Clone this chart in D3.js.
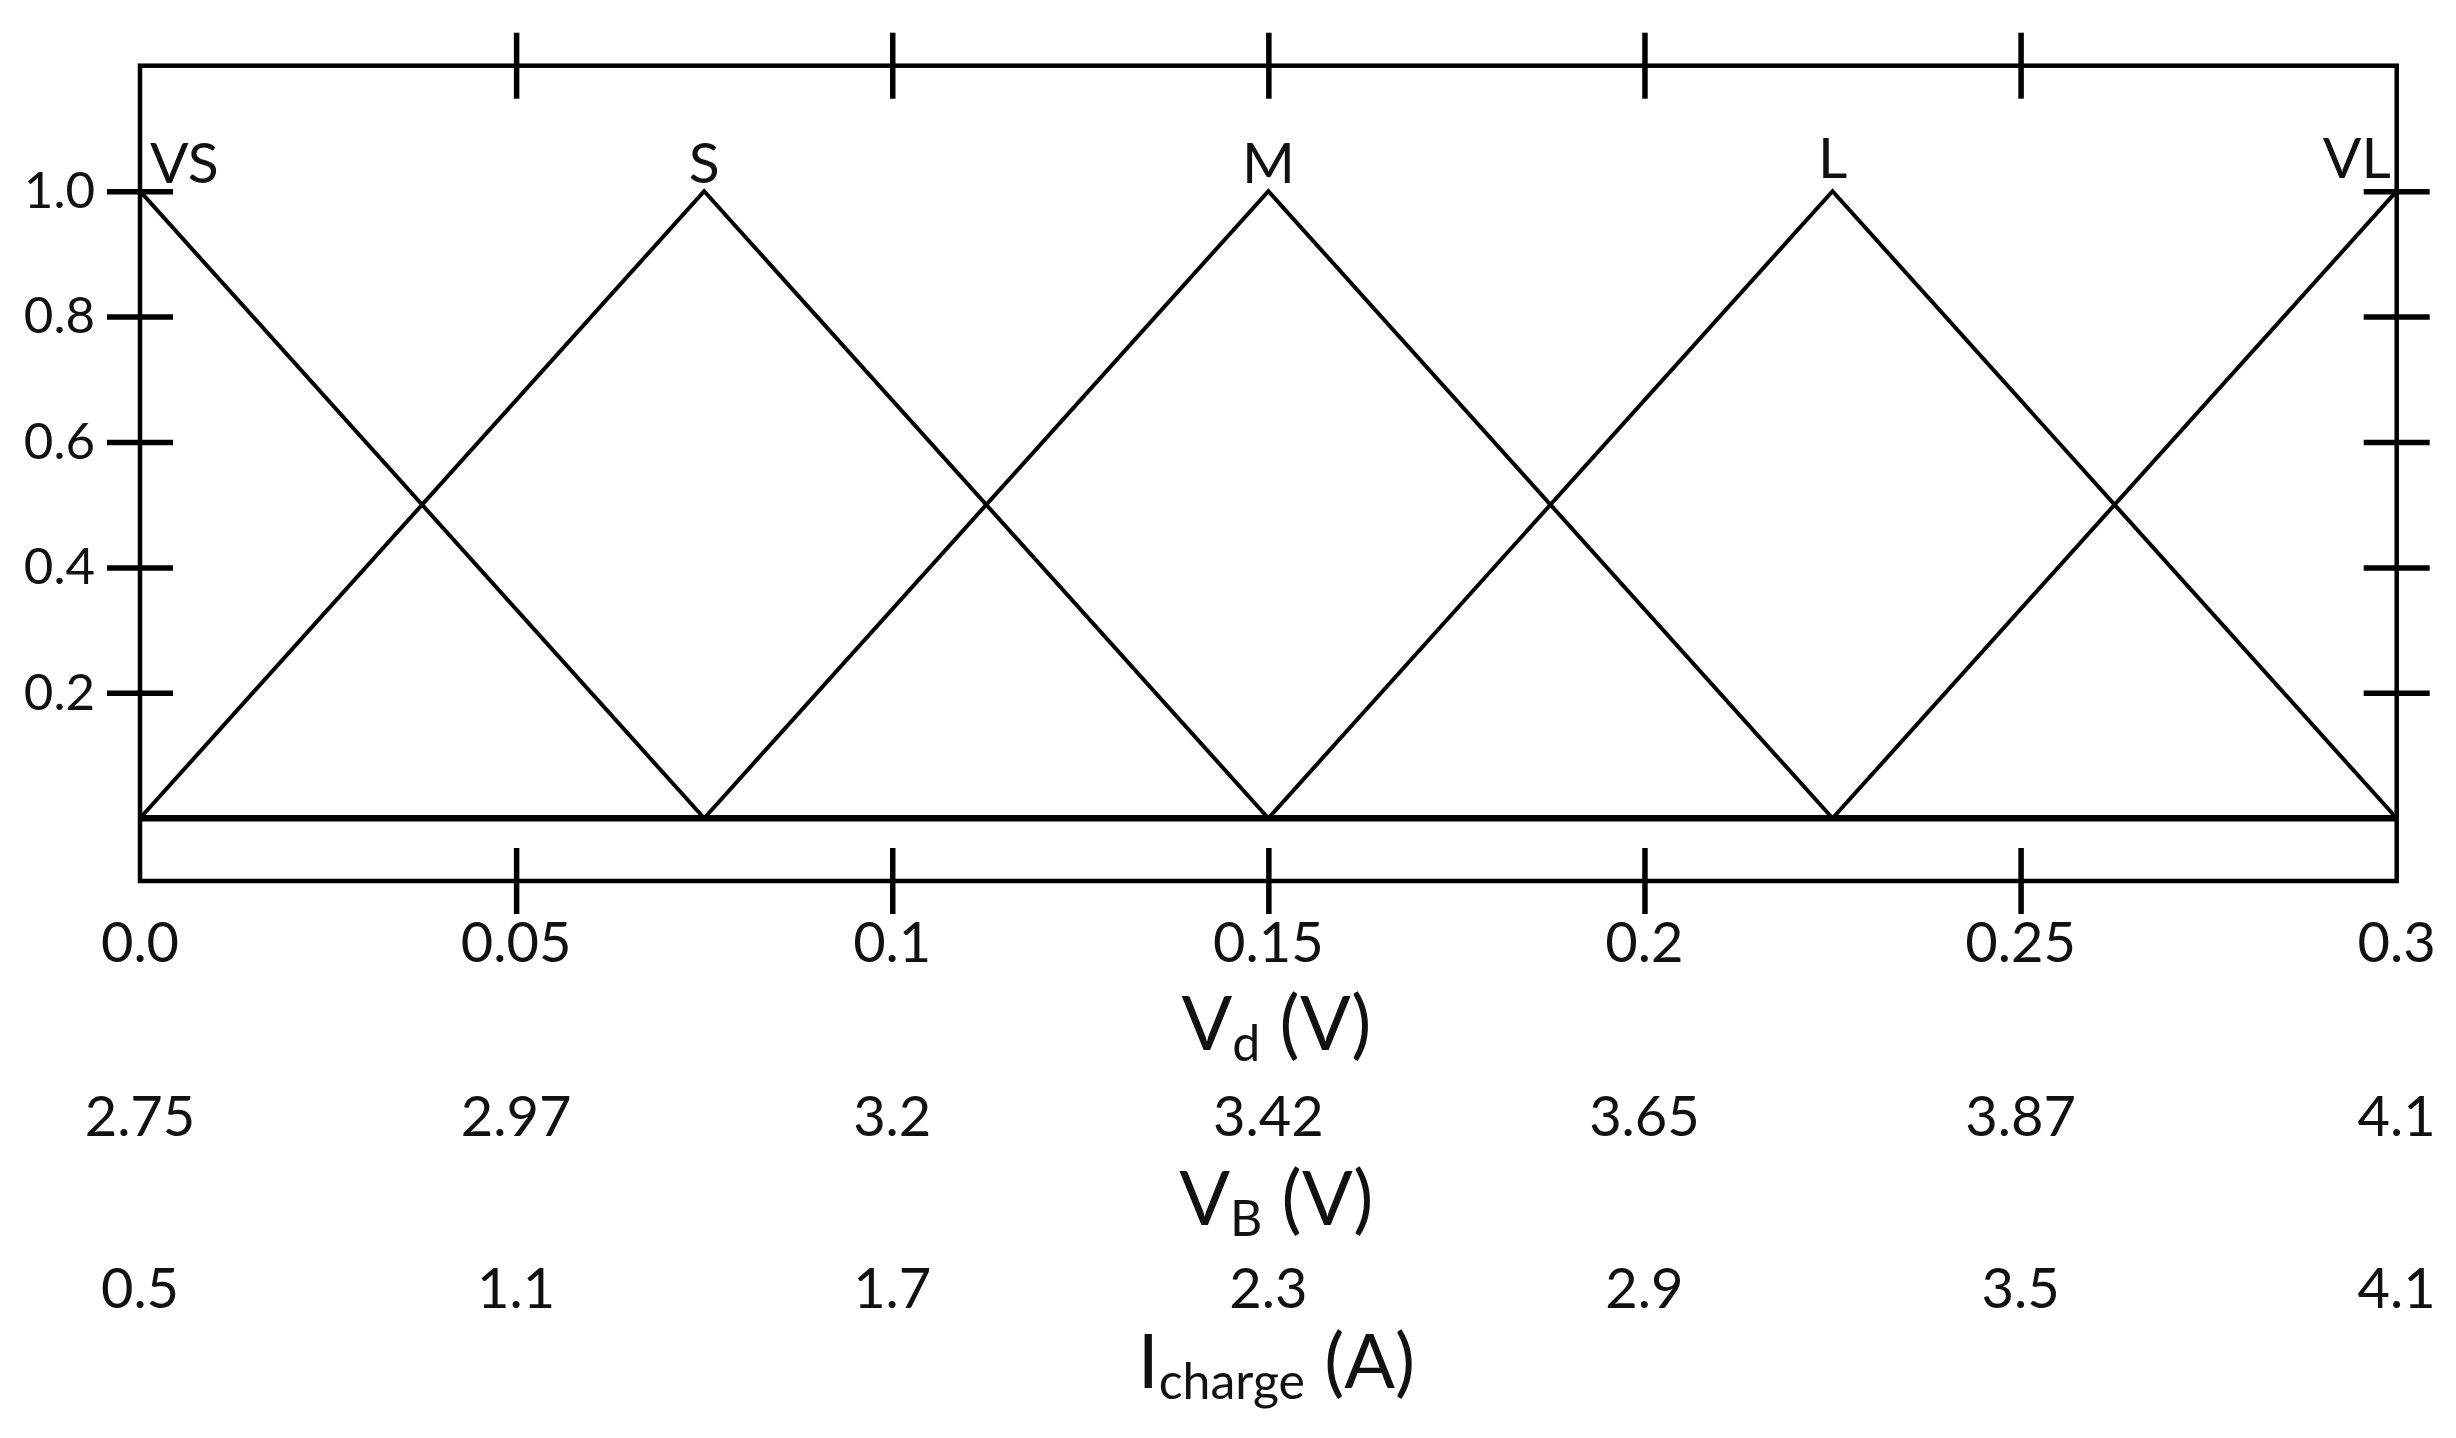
<!DOCTYPE html>
<html>
<head>
<meta charset="utf-8">
<script src="https://cdn.jsdelivr.net/npm/d3@7"></script>
<style>
  body { margin: 0; background: #fff; }
  svg { display: block; }
  text { font-family: Lato, "Open Sans", sans-serif; fill: #111; }
</style>
</head>
<body>
<svg id="mainsvg" width="2456" height="1438"></svg>
<script>
// membership functions (Vd in V, membership 0..1)
var setNames = ["VS", "S", "M", "L", "VL"];
var vsPts = [[0, 1], [0.075, 0]];
var sPts = [[0, 0], [0.075, 1], [0.15, 0]];
var mPts = [[0.075, 0], [0.15, 1], [0.225, 0]];
var lPts = [[0.15, 0], [0.225, 1], [0.3, 0]];
var vlPts = [[0.225, 0], [0.3, 1]];
var peaks = [0, 0.075, 0.15, 0.225, 0.3];

// axis ticks
var vdTicks = [0, 0.05, 0.1, 0.15, 0.2, 0.25, 0.3];
var innerTicks = [0.05, 0.1, 0.15, 0.2, 0.25];
var yTicks = [0.2, 0.4, 0.6, 0.8, 1.0];
var vdLabels = ["0.0", "0.05", "0.1", "0.15", "0.2", "0.25", "0.3"];
var vbLabels = ["2.75", "2.97", "3.2", "3.42", "3.65", "3.87", "4.1"];
var iLabels = ["0.5", "1.1", "1.7", "2.3", "2.9", "3.5", "4.1"];

var svg = d3.select("#mainsvg");
svg.append("rect").attr("width", 2456).attr("height", 1438).attr("fill", "#fff");

var x = d3.scaleLinear().domain([0, 0.3]).range([140, 2396.7]);
var y = d3.scaleLinear().domain([-0.1, 1.2]).range([881, 65.7]);

// frame
svg.append("rect")
  .attr("x", x(0)).attr("y", y(1.2))
  .attr("width", x(0.3) - x(0)).attr("height", y(-0.1) - y(1.2))
  .attr("fill", "none").attr("stroke", "#000").attr("stroke-width", 4.5);

// ticks crossing the frame
function crossTicks(axis, pos, horiz) {
  var g = svg.append("g").attr("transform", pos).call(axis);
  g.select(".domain").remove();
  g.selectAll(".tick line")
    .attr(horiz ? "y1" : "x1", -33).attr(horiz ? "y2" : "x2", 33)
    .attr("stroke", "#000").attr("stroke-width", 5.5);
  return g;
}
crossTicks(d3.axisTop(x).tickValues(innerTicks).tickSize(0).tickFormat(""),
  "translate(0," + y(1.2) + ")", true);
crossTicks(d3.axisBottom(x).tickValues(innerTicks).tickSize(0).tickFormat(""),
  "translate(0," + y(-0.1) + ")", true);
var left = crossTicks(d3.axisLeft(y).tickValues(yTicks).tickSize(0).tickPadding(45)
  .tickFormat(d3.format(".1f")), "translate(" + x(0) + ",0)", false);
left.selectAll(".tick text").attr("font-size", 51).attr("font-family", null).attr("fill", null);
crossTicks(d3.axisRight(y).tickValues(yTicks).tickSize(0).tickFormat(""),
  "translate(" + x(0.3) + ",0)", false);

// zero line
svg.append("line")
  .attr("x1", x(0)).attr("x2", x(0.3)).attr("y1", y(0)).attr("y2", y(0))
  .attr("stroke", "#000").attr("stroke-width", 6.5);

// triangles
var line = d3.line()
  .x(function (d) { return x(d[0]); })
  .y(function (d) { return y(d[1]); });
svg.append("g").selectAll("path")
  .data([vsPts, sPts, mPts, lPts, vlPts])
  .enter().append("path")
  .attr("d", line)
  .attr("fill", "none").attr("stroke", "#000").attr("stroke-width", 4)
  .attr("stroke-linejoin", "miter");

// set names
svg.append("g").selectAll("text")
  .data(setNames)
  .enter().append("text")
  .attr("x", function (d, i) {
    if (i == 0) return x(peaks[i]) + 10;
    if (i == peaks.length - 1) return x(peaks[i]) - 6;
    return x(peaks[i]);
  })
  .attr("y", function (d, i) { return i >= 3 ? 178 : 183; })
  .attr("text-anchor", function (d, i) {
    return i == 0 ? "start" : (i == peaks.length - 1 ? "end" : "middle");
  })
  .attr("font-size", 57)
  .text(function (d) { return d; });

// bottom label rows
function labelRow(labels, baseline) {
  svg.append("g").selectAll("text")
    .data(vdTicks)
    .enter().append("text")
    .attr("x", function (d) { return x(d); })
    .attr("y", baseline)
    .attr("text-anchor", "middle")
    .attr("font-size", 56)
    .text(function (d, i) { return labels[i]; });
}
labelRow(vdLabels, 962);
labelRow(vbLabels, 1136);
labelRow(iLabels, 1308);

// axis titles with subscripts
function title(main, sub, rest, baseline) {
  var t = svg.append("text")
    .attr("x", x(0.15) + 8).attr("y", baseline)
    .attr("text-anchor", "middle").attr("font-size", 75);
  t.append("tspan").text(main);
  t.append("tspan").attr("font-size", 50).attr("dy", 11).text(sub);
  t.append("tspan").attr("dy", -11).text(rest);
}
title("V", "d", " (V)", 1050);
title("V", "B", " (V)", 1225);
title("I", "charge", " (A)", 1388);
</script>
</body>
</html>
